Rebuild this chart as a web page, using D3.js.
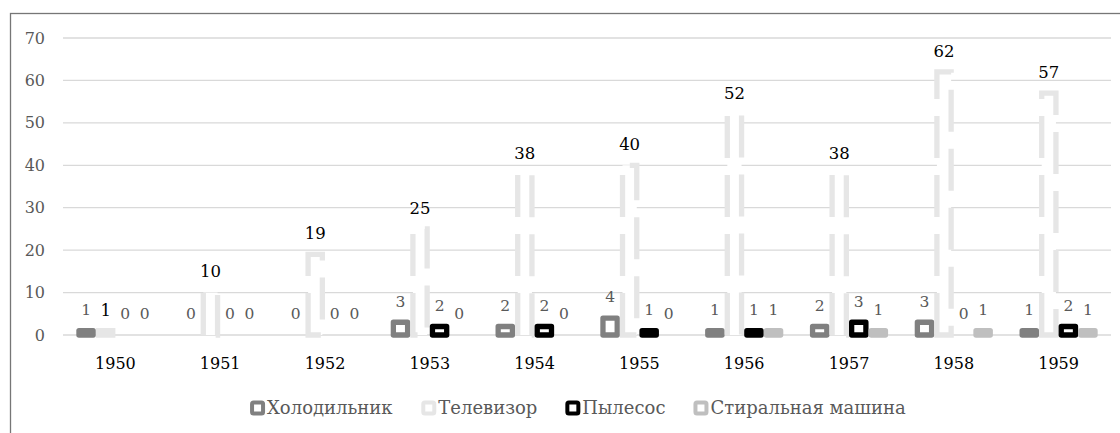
<!DOCTYPE html>
<html lang="ru">
<head>
<meta charset="UTF-8">
<title>Бытовая техника 1950-1959</title>
<style>
body { margin: 0; background: #fff; }
svg { display: block; }
.grid line { stroke: #d9d9d9; stroke-width: 1.3px; }
</style>
</head>
<body>
<script src="https://cdnjs.cloudflare.com/ajax/libs/d3/7.8.5/d3.min.js"></script>
<script>
// data
var years = ["1950", "1951", "1952", "1953", "1954", "1955", "1956", "1957", "1958", "1959"];
var seriesNames = ["Холодильник", "Телевизор", "Пылесос", "Стиральная машина"];
var fridge = [1, 0, 0, 3, 2, 4, 1, 2, 3, 1];
var tv = [1, 10, 19, 25, 38, 40, 52, 38, 62, 57];
var vacuum = [0, 0, 0, 2, 2, 1, 1, 3, 0, 2];
var washer = [0, 0, 0, 0, 0, 0, 1, 1, 1, 1];
var yTicks = [0, 10, 20, 30, 40, 50, 60, 70];

var seriesValues = [fridge, tv, vacuum, washer];
var seriesColors = ["#808080", "#e6e6e6", "#000000", "#bfbfbf"];
var labelColors = ["#595959", "#000000", "#595959", "#595959"];
var labelSizes = ["15.5px", "16.5px", "15.5px", "15.5px"];
var dashed = [false, true, false, false];

var width = 1120, height = 433;
var plot = { left: 63, right: 1111, top: 38, bottom: 335 };
var sw = 5.3; // outline width of the bars
var serif = "DejaVu Serif";

var svg = d3.select("body").append("svg")
  .attr("width", width)
  .attr("height", height)
  .style("font-family", serif);

// chart area frame (only top and left edges are in view)
svg.append("rect")
  .attr("x", 10.5).attr("y", 13.5)
  .attr("width", 1300).attr("height", 600)
  .attr("fill", "#fff")
  .attr("stroke", "#767676")
  .attr("stroke-width", 1.3);

// scales
var x0 = d3.scaleBand()
  .domain(years)
  .range([plot.left, plot.right])
  .paddingInner(0.254)
  .paddingOuter(0.127);

var x1 = d3.scaleBand()
  .domain(seriesNames)
  .range([0, x0.bandwidth()]);

var y = d3.scaleLinear()
  .domain([0, 70])
  .range([plot.bottom, plot.top]);

// gridlines
svg.append("g")
  .attr("class", "grid")
  .selectAll("line")
  .data(yTicks)
  .enter().append("line")
  .attr("x1", plot.left).attr("x2", plot.right)
  .attr("y1", function (d) { return y(d); })
  .attr("y2", function (d) { return y(d); });

// y axis labels
svg.append("g")
  .selectAll("text")
  .data(yTicks)
  .enter().append("text")
  .style("font-family", serif)
  .style("font-size", "16px")
  .attr("fill", "#595959")
  .attr("x", plot.left - 18)
  .attr("y", function (d) { return y(d); })
  .attr("dy", "0.35em")
  .attr("text-anchor", "end")
  .text(function (d) { return d; });

// year labels
svg.append("g")
  .selectAll("text")
  .data(years)
  .enter().append("text")
  .style("font-family", serif)
  .style("font-size", "16px")
  .attr("fill", "#000")
  .attr("x", function (d) { return x0(d) + x0.bandwidth() / 2; })
  .attr("y", 363)
  .attr("dy", "0.35em")
  .attr("text-anchor", "middle")
  .text(function (d) { return d; });

// flatten into one record per bar
var bars = [];
seriesNames.forEach(function (name, s) {
  years.forEach(function (yr, i) {
    bars.push({ series: s, name: name, year: yr, value: seriesValues[s][i] });
  });
});

// bar outline path: up the left side, across the top, down the right, back along the bottom
function barPath(d) {
  var bx = x0(d.year) + x1(d.name) + sw / 2,
      bw = x1.bandwidth() - sw,
      yb = y(0),
      yt = y(d.value);
  return "M" + bx + "," + yb +
    " L" + bx + "," + yt +
    " L" + (bx + bw) + "," + yt +
    " L" + (bx + bw) + "," + yb + " Z";
}

svg.append("g")
  .selectAll("path")
  .data(bars.filter(function (d) { return d.value > 0; }))
  .enter().append("path")
  .attr("d", barPath)
  .attr("fill", "#fff")
  .attr("stroke", function (d) { return seriesColors[d.series]; })
  .attr("stroke-width", sw)
  .attr("stroke-linejoin", function (d) { return dashed[d.series] ? "miter" : "round"; })
  .attr("stroke-dasharray", function (d) { return dashed[d.series] ? "42 17" : null; });

// value labels
svg.append("g")
  .selectAll("text")
  .data(bars)
  .enter().append("text")
  .style("font-family", serif)
  .style("font-size", function (d) { return labelSizes[d.series]; })
  .attr("x", function (d) { return x0(d.year) + x1(d.name) + x1.bandwidth() / 2; })
  .attr("y", function (d) { return y(d.value) - 21; })
  .attr("dy", "0.35em")
  .attr("text-anchor", "middle")
  .attr("fill", function (d) { return labelColors[d.series]; })
  .text(function (d) { return d.value; });

// legend
var legend = svg.append("g");
var items = legend.selectAll("g")
  .data(seriesNames)
  .enter().append("g");

items.append("rect")
  .attr("x", 2).attr("y", -5.5)
  .attr("width", 11).attr("height", 11)
  .attr("rx", 1.5)
  .attr("fill", "#fff")
  .attr("stroke", function (d, i) { return seriesColors[i]; })
  .attr("stroke-width", 4);

items.append("text")
  .style("font-family", serif)
  .style("font-size", "18px")
  .attr("fill", "#595959")
  .attr("x", 17)
  .attr("y", 0)
  .attr("dy", "0.35em")
  .text(function (d) { return d; });

// place legend items side by side, centred under the chart
var gap = 30, pos = 0, offsets = [];
items.each(function () {
  offsets.push(pos);
  pos += this.getBBox().width + gap;
});
var totalW = pos - gap;
var startX = 577 - totalW / 2;
items.attr("transform", function (d, i) {
  return "translate(" + (startX + offsets[i]) + ",408)";
});
</script>
</body>
</html>
